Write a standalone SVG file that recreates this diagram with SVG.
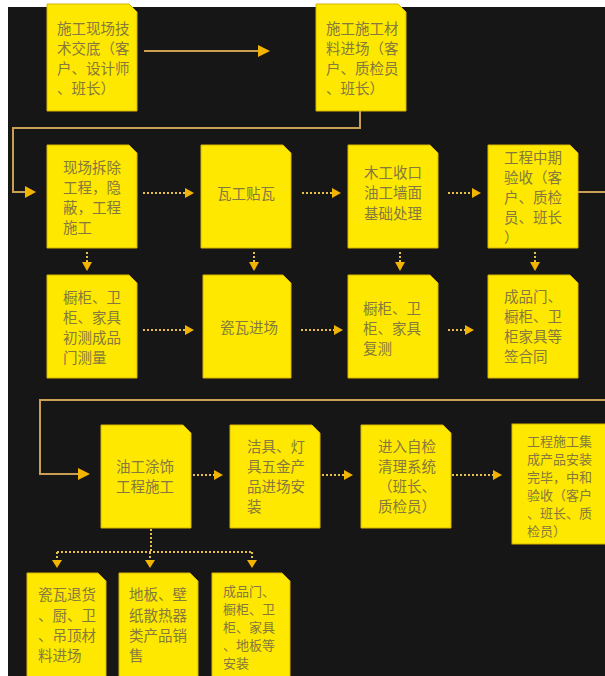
<svg xmlns="http://www.w3.org/2000/svg" width="605" height="676" viewBox="0 0 605 676">
<defs>
<style>
.box{fill:#ffe800;stroke:#d9b400;stroke-width:1}
.t{font-family:"Noto Sans CJK SC","Noto Sans",sans-serif;font-size:14.5px;fill:#84793f}
.s{font-size:13px}
.solid{fill:none;stroke:#c9a052;stroke-width:2}
.dot{fill:none;stroke:#e6c048;stroke-width:2;stroke-dasharray:2 2}
.head{fill:#f2b400}
</style>
</defs>
<rect x="0" y="0" width="605" height="676" fill="#ffffff"/>
<rect x="8" y="7" width="597" height="669" fill="#161616"/>

<g id="connectors">
<path class="solid" d="M144,51 H259"/>
<path class="head" d="M258,45 L270,51 L258,57 Z"/>
<path class="solid" d="M360,111 V128 H13 V192 H26"/>
<path class="head" d="M25,186 L36,192 L25,198 Z"/>
<path class="solid" d="M578,192 H605"/>
<path class="solid" d="M605,400 H40 V474 H79"/>
<path class="head" d="M78,468 L90,474 L78,480 Z"/>
<path class="dot" d="M143,193 H186"/><path class="head" d="M185,188 L194,193 L185,198 Z"/>
<path class="dot" d="M302,193 H333"/><path class="head" d="M332,188 L341,193 L332,198 Z"/>
<path class="dot" d="M448,193 H473"/><path class="head" d="M472,188 L481,193 L472,198 Z"/>
<path class="dot" d="M87,252 V262"/><path class="head" d="M82,262 L87,271 L92,262 Z"/>
<path class="dot" d="M254,252 V262"/><path class="head" d="M249,262 L254,271 L259,262 Z"/>
<path class="dot" d="M400,252 V262"/><path class="head" d="M395,262 L400,271 L405,262 Z"/>
<path class="dot" d="M535,252 V262"/><path class="head" d="M530,262 L535,271 L540,262 Z"/>
<path class="dot" d="M143,330 H186"/><path class="head" d="M185,325 L194,330 L185,335 Z"/>
<path class="dot" d="M301,330 H335"/><path class="head" d="M334,325 L343,330 L334,335 Z"/>
<path class="dot" d="M448,330 H466"/><path class="head" d="M465,325 L474,330 L465,335 Z"/>
<path class="dot" d="M193,475 H215"/><path class="head" d="M214,470 L223,475 L214,480 Z"/>
<path class="dot" d="M322,475 H345"/><path class="head" d="M344,470 L353,475 L344,480 Z"/>
<path class="dot" d="M452,475 H494"/><path class="head" d="M493,470 L502,475 L493,480 Z"/>
<path class="dot" d="M151,529 V552"/>
<path class="dot" d="M57,552 H252"/>
<path class="dot" d="M57,552 V560"/><path class="head" d="M52,560 L57,568 L62,560 Z"/>
<path class="dot" d="M150,552 V560"/><path class="head" d="M145,560 L150,568 L155,560 Z"/>
<path class="dot" d="M252,552 V560"/><path class="head" d="M247,560 L252,568 L257,560 Z"/>
</g>

<g id="n1"><path class="box" d="M47,4 H129 L137,12 V111 H47 Z"/>
<text class="t"><tspan x="57" y="34">施工现场技</tspan><tspan x="57" y="54">术交底（客</tspan><tspan x="57" y="74">户、设计师</tspan><tspan x="57" y="94">、班长）</tspan></text></g>
<g id="n2"><path class="box" d="M316,4 H398 L406,12 V111 H316 Z"/>
<text class="t"><tspan x="326" y="34">施工施工材</tspan><tspan x="326" y="54">料进场（客</tspan><tspan x="326" y="74">户、质检员</tspan><tspan x="326" y="94">、班长）</tspan></text></g>

<g id="n3"><path class="box" d="M47,145 H129 L137,153 V248 H47 Z"/>
<text class="t"><tspan x="63" y="173">现场拆除</tspan><tspan x="63" y="193">工程，隐</tspan><tspan x="63" y="213">蔽，工程</tspan><tspan x="63" y="233">施工</tspan></text></g>
<g id="n4"><path class="box" d="M201,145 H283 L291,153 V248 H201 Z"/>
<text class="t"><tspan x="217" y="199">瓦工贴瓦</tspan></text></g>
<g id="n5"><path class="box" d="M348,145 H430 L438,153 V248 H348 Z"/>
<text class="t"><tspan x="364" y="178">木工收口</tspan><tspan x="364" y="198">油工墙面</tspan><tspan x="364" y="219">基础处理</tspan></text></g>
<g id="n6"><path class="box" d="M488,145 H570 L578,153 V248 H488 Z"/>
<text class="t"><tspan x="504" y="163">工程中期</tspan><tspan x="504" y="183">验收（客</tspan><tspan x="504" y="203">户、质检</tspan><tspan x="504" y="223">员、班长</tspan><tspan x="504" y="243">）</tspan></text></g>

<g id="n7"><path class="box" d="M47,275 H129 L137,283 V378 H47 Z"/>
<text class="t"><tspan x="63" y="303">橱柜、卫</tspan><tspan x="63" y="323">柜、家具</tspan><tspan x="63" y="343">初测成品</tspan><tspan x="63" y="363">门测量</tspan></text></g>
<g id="n8"><path class="box" d="M203,275 H283 L291,283 V378 H203 Z"/>
<text class="t"><tspan x="220" y="333">瓷瓦进场</tspan></text></g>
<g id="n9"><path class="box" d="M348,275 H430 L438,283 V378 H348 Z"/>
<text class="t"><tspan x="363" y="314">橱柜、卫</tspan><tspan x="363" y="334">柜、家具</tspan><tspan x="363" y="354">复测</tspan></text></g>
<g id="n10"><path class="box" d="M488,275 H570 L578,283 V378 H488 Z"/>
<text class="t"><tspan x="504" y="302">成品门、</tspan><tspan x="504" y="322">橱柜、卫</tspan><tspan x="504" y="342">柜家具等</tspan><tspan x="504" y="362">签合同</tspan></text></g>

<g id="n11"><path class="box" d="M101,425 H183 L191,433 V528 H101 Z"/>
<text class="t"><tspan x="116" y="472">油工涂饰</tspan><tspan x="116" y="492">工程施工</tspan></text></g>
<g id="n12"><path class="box" d="M230,425 H312 L320,433 V528 H230 Z"/>
<text class="t"><tspan x="247" y="452">洁具、灯</tspan><tspan x="247" y="472">具五金产</tspan><tspan x="247" y="492">品进场安</tspan><tspan x="247" y="512">装</tspan></text></g>
<g id="n13"><path class="box" d="M361,425 H443 L451,433 V528 H361 Z"/>
<text class="t"><tspan x="378" y="452">进入自检</tspan><tspan x="378" y="472">清理系统</tspan><tspan x="378" y="492">（班长、</tspan><tspan x="378" y="512">质检员）</tspan></text></g>
<g id="n14"><rect class="box" x="512" y="424" width="100" height="120"/>
<text class="t s"><tspan x="527" y="446">工程施工集</tspan><tspan x="527" y="464">成产品安装</tspan><tspan x="527" y="482">完毕，中和</tspan><tspan x="527" y="500">验收（客户</tspan><tspan x="527" y="518">、班长、质</tspan><tspan x="527" y="536">检员）</tspan></text></g>

<g id="n15"><path class="box" d="M27,573 H98 L106,581 V680 H27 Z"/>
<text class="t"><tspan x="38" y="600">瓷瓦退货</tspan><tspan x="38" y="621">、厨、卫</tspan><tspan x="38" y="641">、吊顶材</tspan><tspan x="38" y="661">料进场</tspan></text></g>
<g id="n16"><path class="box" d="M119,573 H190 L198,581 V680 H119 Z"/>
<text class="t"><tspan x="129" y="600">地板、壁</tspan><tspan x="129" y="621">纸散热器</tspan><tspan x="129" y="641">类产品销</tspan><tspan x="129" y="661">售</tspan></text></g>
<g id="n17"><path class="box" d="M212,573 H282 L290,581 V680 H212 Z"/>
<text class="t s"><tspan x="223" y="596">成品门、</tspan><tspan x="223" y="614">橱柜、卫</tspan><tspan x="223" y="632">柜、家具</tspan><tspan x="223" y="650">、地板等</tspan><tspan x="223" y="668">安装</tspan></text></g>
</svg>
